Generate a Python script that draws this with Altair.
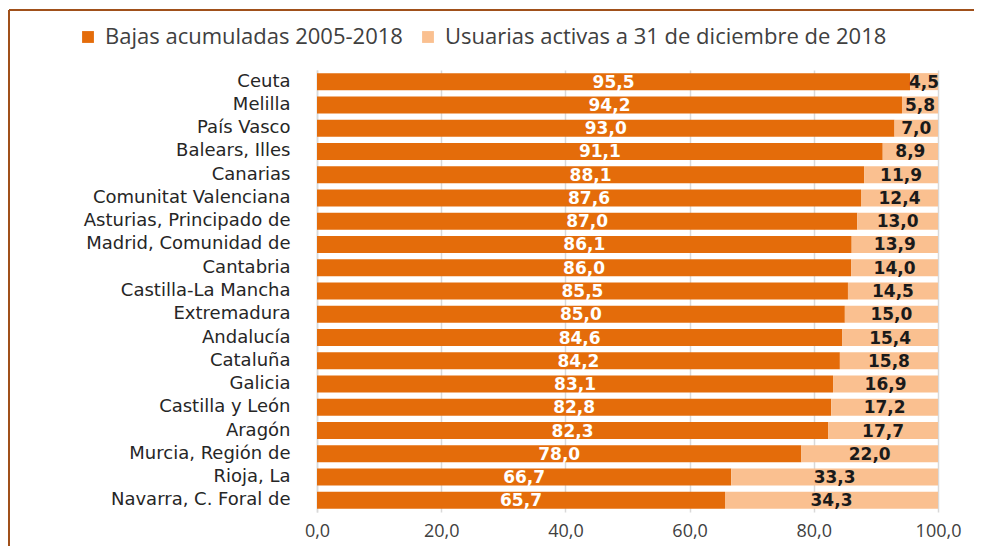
import altair as alt
import pandas as pd

categories = ["Ceuta", "Melilla", "País Vasco", "Balears, Illes", "Canarias",
              "Comunitat Valenciana", "Asturias, Principado de", "Madrid, Comunidad de ",
              "Cantabria", "Castilla-La Mancha", "Extremadura", "Andalucía", "Cataluña",
              "Galicia", "Castilla y León", "Aragón", "Murcia, Región de", "Rioja, La",
              "Navarra, C. Foral de"]
bajas = [95.5, 94.2, 93.0, 91.1, 88.1, 87.6, 87.0, 86.1, 86.0, 85.5, 85.0, 84.6,
         84.2, 83.1, 82.8, 82.3, 78.0, 66.7, 65.7]
activas = [4.5, 5.8, 7.0, 8.9, 11.9, 12.4, 13.0, 13.9, 14.0, 14.5, 15.0, 15.4,
           15.8, 16.9, 17.2, 17.7, 22.0, 33.3, 34.3]
series = ["Bajas acumuladas 2005-2018", "Usuarias activas a 31 de diciembre de 2018"]
colors = ["#E46C0A", "#FAC090"]

rows = []
for c, b, a in zip(categories, bajas, activas):
    rows.append({"cat": c, "serie": series[0], "v": b, "start": 0.0, "end": b,
                 "lab": f"{b:.1f}".replace(".", ","), "order": 0})
    rows.append({"cat": c, "serie": series[1], "v": a, "start": b, "end": b + a,
                 "lab": f"{a:.1f}".replace(".", ","), "order": 1})
df = pd.DataFrame(rows)

W, H = 621, 442
PAD_L, PAD_T = 309, 62
TOTAL_W, TOTAL_H = 966, 538

base = alt.Chart(df)

bars = base.mark_bar(size=17).encode(
    x=alt.X("start:Q", scale=alt.Scale(domain=[0, 100], nice=False),
            axis=alt.Axis(values=[0, 20, 40, 60, 80, 100],
                          labelExpr="replace(format(datum.value,'.1f'),'.',',')",
                          title=None, grid=True, gridColor="#D9D9D9", gridWidth=1.5,
                          domain=False, ticks=False, labelFont="Open Sans",
                          labelFontSize=18, labelColor="#404040", labelPadding=10,
                          labelFlush=False, labelBound=False, labelOverlap=False)),
    x2="end:Q",
    y=alt.Y("cat:N", sort=categories,
            axis=alt.Axis(title=None, domain=True, domainColor="#D9D9D9", domainWidth=1.5,
                          ticks=False, labelFont="DejaVu Sans", labelFontSize=18,
                          labelColor="#262626", labelPadding=27, labelLimit=400),
            scale=alt.Scale(paddingInner=0.27, paddingOuter=0.135)),
    color=alt.Color("serie:N", scale=alt.Scale(domain=series, range=colors),
                    legend=alt.Legend(title=None, orient="none", direction="horizontal",
                                      legendX=-240, legendY=-44, symbolType="square",
                                      symbolSize=140, symbolStrokeWidth=0,
                                      labelFont="Open Sans", labelFontSize=22,
                                      labelColor="#404040", columnPadding=14,
                                      labelOffset=6, labelLimit=700)),
)

text = base.transform_calculate(mid="(datum.start + datum.end) / 2").mark_text(
    font="DejaVu Sans", fontSize=17, fontWeight="bold", dy=1
).encode(
    x="mid:Q",
    y=alt.Y("cat:N", sort=categories),
    text="lab:N",
    color=alt.Color("serie:N", scale=alt.Scale(domain=series, range=["#FFFFFF", "#1A1A1A"]),
                    legend=None),
)

border_top = alt.Chart(df).mark_rule(color="#A0501A", strokeWidth=2).encode(
    x=alt.value(-PAD_L + 1), x2=alt.value(W + 400), y=alt.value(-PAD_T + 2)
)
border_left = alt.Chart(df).mark_rule(color="#A0501A", strokeWidth=2).encode(
    x=alt.value(-PAD_L + 1), y=alt.value(-PAD_T + 2), y2=alt.value(H + 200)
)

chart = alt.layer(bars, text, border_top, border_left).resolve_scale(color="independent").properties(
    width=W, height=H,
    autosize=alt.AutoSizeParams(type="none"),
    padding={"left": PAD_L, "top": PAD_T, "right": TOTAL_W - PAD_L - W,
             "bottom": TOTAL_H - PAD_T - H},
).configure_view(stroke=None)

chart.save("out.html", embed_options={"renderer": "svg", "actions": False})
